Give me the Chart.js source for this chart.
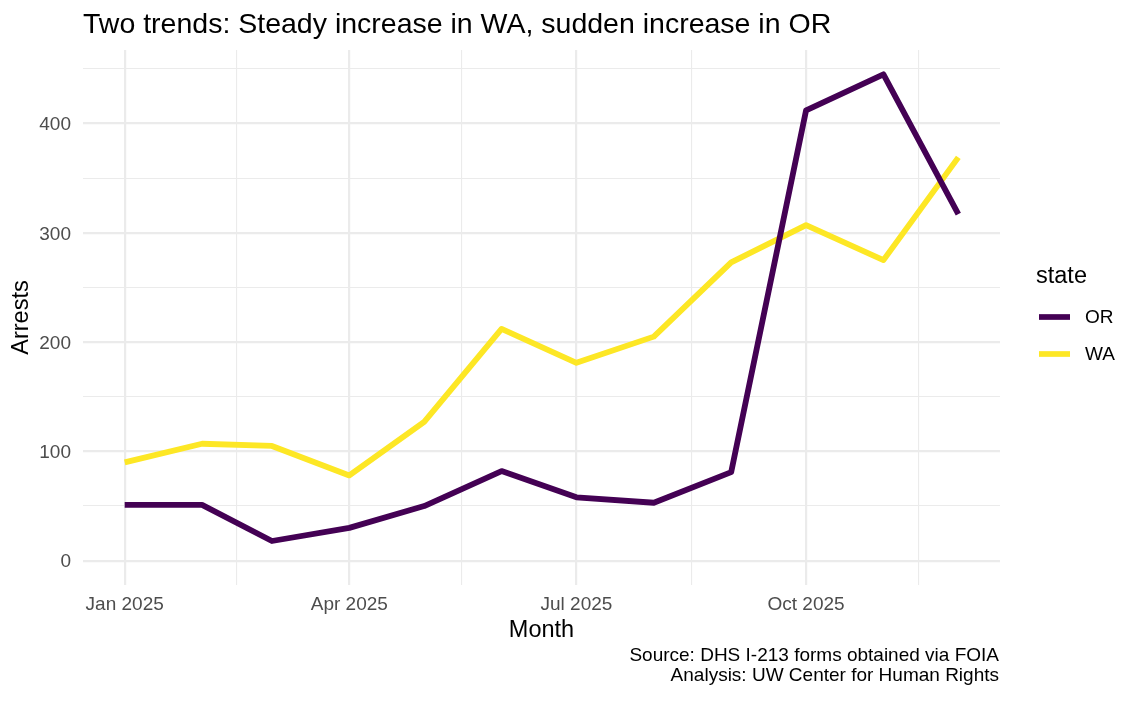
<!DOCTYPE html>
<html>
<head>
<meta charset="utf-8">
<script src="https://cdn.jsdelivr.net/npm/chart.js@4.4.1/dist/chart.umd.min.js"></script>
<style>
  html, body { margin: 0; padding: 0; background: #ffffff; }
  #wrap { width: 1140px; height: 704px; }
</style>
</head>
<body>
<div id="wrap"><canvas id="c" width="1140" height="704"></canvas></div>
<script>
// ---- data ----
const months = ['2025-01-01','2025-02-01','2025-03-01','2025-04-01','2025-05-01','2025-06-01',
                '2025-07-01','2025-08-01','2025-09-01','2025-10-01','2025-11-01','2025-12-01'];
const orArrests = [51, 51, 18, 30, 50, 82, 58, 53, 81, 412, 445, 317];
const waArrests = [90, 107, 105, 78, 127, 212, 181, 205, 273, 307, 275, 369];
const seriesNames = ['OR', 'WA'];
const seriesColors = ['#440154', '#FDE725'];
const majorTickDates = ['2025-01-01','2025-04-01','2025-07-01','2025-10-01'];
const majorTickLabels = ['Jan 2025','Apr 2025','Jul 2025','Oct 2025'];
const minorTickDates = ['2025-02-15','2025-05-16','2025-08-16','2025-11-15'];
const yMajorTicks = [0, 100, 200, 300, 400];
const yMinorTicks = [50, 150, 250, 350, 450];

const titleText = 'Two trends: Steady increase in WA, sudden increase in OR';
const xTitle = 'Month';
const yTitle = 'Arrests';
const legendTitle = 'state';
const captionLines = ['Source: DHS I-213 forms obtained via FOIA', 'Analysis: UW Center for Human Rights'];

// ---- helpers ----
const t0 = Date.UTC(2025, 0, 1);
function dayOf(s) { const p = s.split('-').map(Number); return (Date.UTC(p[0], p[1]-1, p[2]) - t0) / 86400000; }
const xs = months.map(dayOf);
const majorX = majorTickDates.map(dayOf);
const minorX = minorTickDates.map(dayOf);

const allY = orArrests.concat(waArrests, [0]);
const yLo = Math.min(...allY), yHi = Math.max(...allY);
const yPad = (yHi - yLo) * 0.05;
const xLo = Math.min(...xs), xHi = Math.max(...xs);
const xPad = (xHi - xLo) * 0.05;

const FONT = '"Liberation Sans", Arial, Helvetica, sans-serif';
const GRID = '#EBEBEB';

const textPlugin = {
  id: 'ggtext',
  afterDraw(chart) {
    const ctx = chart.ctx;
    const a = chart.chartArea;
    ctx.save();
    // title
    ctx.fillStyle = '#000000';
    ctx.font = '28.5px ' + FONT;
    ctx.textAlign = 'left';
    ctx.textBaseline = 'alphabetic';
    ctx.fillText(titleText, a.left, 32.5);
    // x title
    ctx.font = '23.5px ' + FONT;
    ctx.textAlign = 'center';
    ctx.fillText(xTitle, (a.left + a.right) / 2, 637);
    // y title
    ctx.save();
    ctx.translate(28, (a.top + a.bottom) / 2);
    ctx.rotate(-Math.PI / 2);
    ctx.textAlign = 'center';
    ctx.fillText(yTitle, 0, 0);
    ctx.restore();
    // legend
    ctx.textAlign = 'left';
    ctx.font = '23.5px ' + FONT;
    ctx.fillText(legendTitle, 1036, 283);
    ctx.font = '19px ' + FONT;
    ctx.textBaseline = 'middle';
    const ly = [317, 354];
    chart.data.datasets.forEach((ds, i) => {
      ctx.strokeStyle = ds.borderColor;
      ctx.lineWidth = 5.7;
      ctx.lineCap = 'butt';
      ctx.beginPath();
      ctx.moveTo(1039, ly[i]);
      ctx.lineTo(1070, ly[i]);
      ctx.stroke();
      ctx.fillStyle = '#000000';
      ctx.fillText(ds.label, 1085, ly[i] + 1);
    });
    // caption
    ctx.textAlign = 'right';
    ctx.textBaseline = 'alphabetic';
    ctx.font = '19px ' + FONT;
    ctx.fillText(captionLines[0], a.right - 1, 661);
    ctx.fillText(captionLines[1], a.right - 1, 681);
    ctx.restore();
  }
};

const mkData = arr => arr.map((v, i) => ({ x: xs[i], y: v }));

new Chart(document.getElementById('c'), {
  type: 'line',
  data: {
    datasets: [
      { label: seriesNames[0], data: mkData(orArrests), borderColor: seriesColors[0], backgroundColor: seriesColors[0] },
      { label: seriesNames[1], data: mkData(waArrests), borderColor: seriesColors[1], backgroundColor: seriesColors[1] }
    ]
  },
  options: {
    responsive: false,
    animation: false,
    devicePixelRatio: 1,
    layout: { padding: { left: 0, right: 140, top: 50, bottom: 0 } },
    elements: {
      line: { borderWidth: 5.8, tension: 0, borderCapStyle: 'butt', borderJoinStyle: 'round', fill: false },
      point: { radius: 0, hoverRadius: 0 }
    },
    plugins: { legend: { display: false }, title: { display: false }, tooltip: { enabled: false } },
    scales: {
      x: {
        type: 'linear',
        bounds: 'data',
        min: xLo - xPad,
        max: xHi + xPad,
        afterBuildTicks(scale) {
          const t = majorX.map(v => ({ value: v, isMajor: true }))
            .concat(minorX.map(v => ({ value: v, isMajor: false })));
          t.sort((p, q) => p.value - q.value);
          scale.ticks = t;
        },
        afterFit(scale) { scale.height = 119; },
        border: { display: false },
        grid: {
          color: GRID,
          drawTicks: false,
          lineWidth: c => (c.tick && c.tick.isMajor) ? 2.2 : 1.1
        },
        ticks: {
          autoSkip: false,
          maxRotation: 0,
          minRotation: 0,
          padding: 8.5,
          color: '#4D4D4D',
          font: { family: FONT, size: 19 },
          callback: function (v) {
            const i = majorX.indexOf(v);
            return i >= 0 ? majorTickLabels[i] : '';
          }
        }
      },
      y: {
        type: 'linear',
        bounds: 'data',
        min: yLo - yPad,
        max: yHi + yPad,
        afterBuildTicks(scale) {
          const t = yMajorTicks.map(v => ({ value: v, isMajor: true }))
            .concat(yMinorTicks.map(v => ({ value: v, isMajor: false })));
          t.sort((p, q) => p.value - q.value);
          scale.ticks = t;
        },
        afterFit(scale) { scale.width = 83; },
        border: { display: false },
        grid: {
          color: GRID,
          drawTicks: false,
          lineWidth: c => (c.tick && c.tick.isMajor) ? 2.2 : 1.1
        },
        ticks: {
          autoSkip: false,
          padding: 12,
          labelOffset: 1.5,
          color: '#4D4D4D',
          font: { family: FONT, size: 19 },
          callback: function (v) {
            return yMajorTicks.indexOf(v) >= 0 ? String(v) : '';
          }
        }
      }
    }
  },
  plugins: [textPlugin]
});
</script>
</body>
</html>
